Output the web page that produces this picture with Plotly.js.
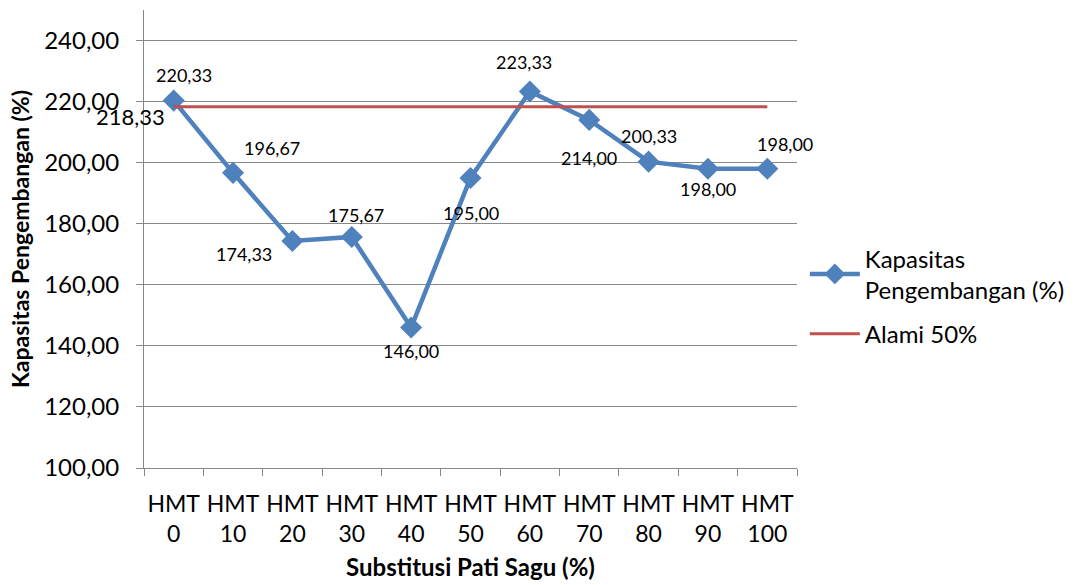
<!DOCTYPE html>
<html><head><meta charset="utf-8">
<script src="https://cdn.plot.ly/plotly-3.0.1.min.js"></script>
<style>body{margin:0;background:#fff}#c{width:1081px;height:585px}</style>
</head><body><div id="c"></div>
<script>
var categories = ["HMT<br>0","HMT<br>10","HMT<br>20","HMT<br>30","HMT<br>40","HMT<br>50","HMT<br>60","HMT<br>70","HMT<br>80","HMT<br>90","HMT<br>100"];
var kapasitas = [220.33,196.67,174.33,175.67,146.00,195.00,223.33,214.00,200.33,198.00,198.00];
var alami = [218.33,218.33,218.33,218.33,218.33,218.33,218.33,218.33,218.33,218.33,218.33];
var yTicks = [100,120,140,160,180,200,220,240];

// label offsets (px) for each data label
var offs = [[10,-26],[39,-25],[-48,13],[4,-22],[0,23],[0,35],[-6,-29],[0,38],[0,-26],[0,20],[18,-25]];
function fmt(v){return v.toFixed(2).replace('.',',');}
var FF = 'Lato, Carlito, sans-serif';

var ann = kapasitas.map(function(v,i){
  return {x:categories[i], y:v, xref:'x', yref:'y', text:fmt(v), showarrow:false,
    xshift:offs[i][0], yshift:-offs[i][1], font:{family:FF, size:18, color:'#000'}};
});
ann.push({x:categories[0], y:alami[0], xref:'x', yref:'y', text:fmt(alami[0]), showarrow:false,
  xshift:-43, yshift:-10, font:{family:FF, size:22, color:'#000'}});

var data = [
 {x:categories, y:kapasitas, type:'scatter', mode:'lines+markers', name:'Kapasitas<br>Pengembangan (%)',
  legendgroup:'a', line:{color:'#4F81BD', width:4.5}, marker:{symbol:'diamond', size:17, color:'#4F81BD'}},
 {x:categories, y:alami, type:'scatter', mode:'lines', name:'Alami 50%',
  legendgroup:'b', line:{color:'#C0504D', width:3}}
];

var layout = {
  width:1081, height:585,
  margin:{l:144, r:284, t:10, b:117},
  paper_bgcolor:'#fff', plot_bgcolor:'#fff',
  separators:',.',
  font:{family:FF, color:'#000'},
  showlegend:true,
  legend:{x:1.012, y:0.375, yanchor:'middle', xanchor:'left', font:{size:24, color:'#000'}, tracegroupgap:10, itemwidth:50},
  xaxis:{type:'category', tickson:'boundaries', ticks:'outside', ticklen:7, tickcolor:'#888', tickangle:0,
    showgrid:false, showline:true, linecolor:'#888', linewidth:1, range:[-0.5,10.5],
    tickfont:{size:23, color:'#000'}, ticklabelstandoff:15,
    title:{text:'<b>Substitusi Pati Sagu (%)</b>', font:{size:24, color:'#000'}, standoff:13}},
  yaxis:{range:[100,250], tickvals:yTicks, tickformat:'.2f', ticks:'outside', ticklen:7, tickcolor:'#888',
    showgrid:true, gridcolor:'#888', gridwidth:1, showline:true, linecolor:'#888', zeroline:false,
    tickfont:{size:24, color:'#000'}, ticklabelstandoff:12,
    title:{text:'<b>Kapasitas Pengembangan (%)</b>', font:{size:23, color:'#000'}, standoff:8}},
  annotations:ann
};
Plotly.newPlot('c', data, layout, {displayModeBar:false, staticPlot:true});
</script></body></html>
